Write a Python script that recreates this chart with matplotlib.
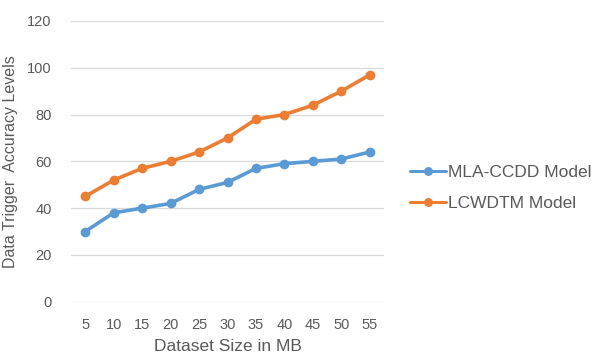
import matplotlib
matplotlib.use("Agg")
import matplotlib.pyplot as plt

sizes = ["5", "10", "15", "20", "25", "30", "35", "40", "45", "50", "55"]
mla_ccdd = [30, 38, 40, 42, 48, 51, 57, 59, 60, 61, 64]
lcwdtm = [45, 52, 57, 60, 64, 70, 78, 80, 84, 90, 97]
series_names = ["MLA-CCDD Model", "LCWDTM Model"]
y_ticks = [0, 20, 40, 60, 80, 100, 120]

plt.rcParams["font.family"] = ["Liberation Sans", "DejaVu Sans"]
text_color = "#595959"

fig = plt.figure(figsize=(5.94, 3.54), dpi=100)
ax = fig.add_axes([0.1195, 0.1477, 0.527, 0.793])

x = list(range(len(sizes)))
ax.plot(x, mla_ccdd, color="#5B9BD5", lw=2.6, marker="o", ms=6,
        label=series_names[0], solid_capstyle="round")
ax.plot(x, lcwdtm, color="#ED7D31", lw=2.6, marker="o", ms=6,
        label=series_names[1], solid_capstyle="round")

ax.set_xlim(-0.5, len(sizes) - 0.5)
ax.set_ylim(0, 120)
ax.set_xticks(x)
ax.set_xticklabels(sizes)
ax.set_yticks(y_ticks)
ax.grid(axis="y", color="#D9D9D9", lw=0.9)
ax.set_axisbelow(True)
for s in ax.spines.values():
    s.set_visible(False)
ax.tick_params(length=0, colors=text_color, labelsize=10.5)
ax.tick_params(axis="x", pad=12)
ax.tick_params(axis="y", pad=14)

ax.set_xlabel("Dataset Size in MB", fontsize=12.5, color=text_color, labelpad=5)
ax.set_ylabel("Data Trigger  Accuracy Levels", fontsize=11.5, color=text_color)
ax.yaxis.set_label_coords(-0.17, 0.5)

leg = fig.legend(loc="center left", bbox_to_anchor=(0.690, 0.469), frameon=False,
                 fontsize=12.5, handlelength=2.1, handletextpad=0.1,
                 borderpad=0, borderaxespad=0, labelspacing=0.9,
                 labelcolor=text_color, markerscale=0.9)
for h in leg.legend_handles:
    h.set_linewidth(2.2)

fig.savefig("out.png", dpi=100)
